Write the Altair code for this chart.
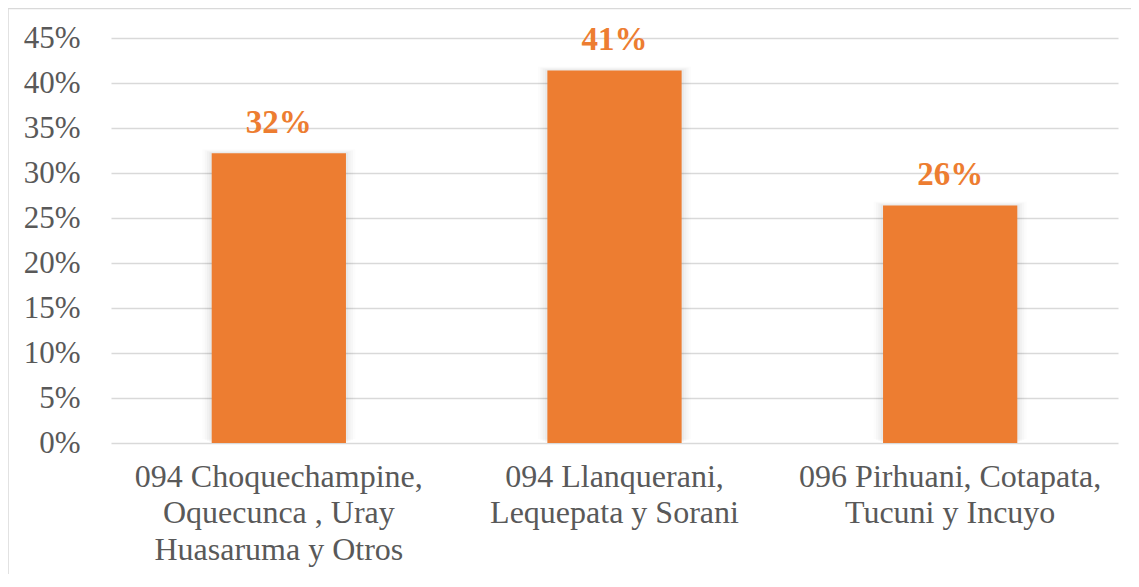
import altair as alt
import pandas as pd

categories = [
    "094 Choquechampine,|Oquecunca , Uray|Huasaruma y Otros",
    "094 Llanquerani,|Lequepata y Sorani",
    "096 Pirhuani, Cotapata,|Tucuni y Incuyo",
]
values = [0.322, 0.414, 0.264]
labels = ["32%", "41%", "26%"]

df = pd.DataFrame({"cat": categories, "val": values, "lab": labels})

W, H = 1007, 405
PL, PT, PR, PB = 103, 30, 13, 131
FONT = "Liberation Serif"

base = alt.Chart(df).encode(
    x=alt.X(
        "cat:N",
        sort=None,
        title=None,
        scale=alt.Scale(paddingInner=0.6, paddingOuter=0.3),
        axis=alt.Axis(
            labelAngle=0,
            labelExpr="split(datum.label, '|')",
            labelFont=FONT,
            labelFontSize=32,
            labelColor="#595959",
            labelLineHeight=36.5,
            labelPadding=18,
            labelLimit=0,
            ticks=False,
            domain=False,
            grid=False,
            labelBaseline="top",
        ),
    ),
)

yenc = alt.Y(
    "val:Q",
    title=None,
    scale=alt.Scale(domain=[0, 0.45], nice=False),
    axis=alt.Axis(
        values=[0, 0.05, 0.10, 0.15, 0.20, 0.25, 0.30, 0.35, 0.40, 0.45],
        format=".0%",
        labelFont=FONT,
        labelFontSize=31,
        labelColor="#595959",
        labelPadding=31,
        ticks=False,
        domain=False,
        gridColor="#D9D9D9",
        gridWidth=1.5,
    ),
)

shadows = [
    base.mark_bar(color="black", opacity=op, yOffset=-dy,
                  width=alt.RelativeBandSize(bw)).encode(y=yenc)
    for bw, op, dy in [(1.14, 0.012, 4), (1.105, 0.018, 3), (1.07, 0.024, 2), (1.035, 0.03, 1)]
]

bars = base.mark_bar(color="#ED7D31").encode(y=yenc)

text = base.mark_text(
    font=FONT, fontSize=33, fontWeight="bold", color="#ED7D31",
    baseline="bottom", dy=-13,
).encode(y="val:Q", text="lab:N")

one = alt.Chart(pd.DataFrame({"a": [0]}))
left_line = one.mark_rule(color="#D9D9D9", strokeWidth=1.5).encode(
    x=alt.value(-PL), y=alt.value(-PT + 0.5), y2=alt.value(H + PB)
)
top_line = one.mark_rule(color="#D9D9D9", strokeWidth=1.5).encode(
    x=alt.value(-PL), x2=alt.value(W + PR), y=alt.value(-PT + 0.5)
)

chart = (
    alt.layer(*shadows, bars, text, left_line, top_line)
    .properties(
        width=W,
        height=H,
        padding={"left": PL, "top": PT, "right": PR, "bottom": PB},
        autosize=alt.AutoSizeParams(type="none"),
        background="white",
    )
    .configure_view(stroke=None)
)

chart.save("out.html", embed_options={"renderer": "svg", "actions": False})
